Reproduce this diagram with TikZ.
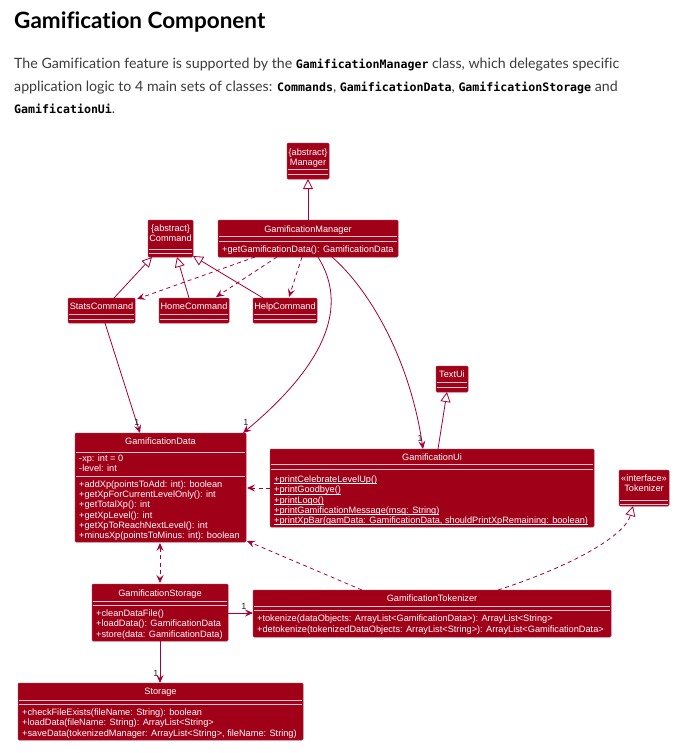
\documentclass[tikz,border=0pt]{standalone}
\usepackage{fontspec}
\setmainfont{Lato}[Ligatures=NoCommon]
\newfontfamily\dfont{Liberation Sans}
\newfontfamily\cfont{DejaVu Sans Mono}
\usetikzlibrary{arrows.meta,calc}
\definecolor{boxred}{HTML}{A00018}
\definecolor{linered}{HTML}{A80036}
\definecolor{sepc}{HTML}{F0C4CC}
\definecolor{bodyc}{HTML}{3C3C3C}
\newcommand\cd[1]{{\cfont\bfseries\fontsize{11.6}{14}\selectfont\color{black}#1}}
\newcommand\umlbox[5]{\node[cls, anchor=north west, minimum width={(#4-#2)*1pt}, minimum height={(#5-#3)*1pt}] (#1) at (#2,#3) {};}
\newcommand\divsep[2]{\draw[divline] ($(#1.north west)+(0.6,#2)$) -- ($(#1.north east)+(-0.6,#2)$);}
\newcommand\ctitle[4]{\node[ctxt, anchor=base] (#1) at (#2,#3) {#4};}
\newcommand\cmeth[4]{\node[ctxt, anchor=base west] (#1) at (#2,#3) {#4};}
\newcommand\ulin[1]{\setbox0\hbox{#1}\rlap{\vrule height -0.9pt depth 1.5pt width \wd0}\box0}
\begin{document}
\begin{tikzpicture}[x=1pt,y=-1pt,
  cls/.style={fill=boxred, draw=boxred!85!white, line width=0.5pt, rounded corners=1.2pt, inner sep=0pt, outer sep=0pt},
  divline/.style={draw=sepc, line width=0.8pt},
  ctxt/.style={text=white, inner sep=0pt, font=\dfont\fontsize{9.2}{10.3}\selectfont},
  onelbl/.style={text=black!85, inner sep=0pt, font=\dfont\fontsize{9}{10}\selectfont},
  inh/.style={draw=linered, line width=0.8pt, -{Triangle[length=10pt,width=10pt,fill=white,line width=0.8pt]}},
  inhd/.style={inh, dash pattern=on 4pt off 3.5pt},
  asc/.style={draw=linered, line width=0.8pt, -{Stealth[length=8pt,width=7pt,inset=3pt]}},
  dep/.style={asc, dash pattern=on 4pt off 3.5pt},
  depboth/.style={dep, {Stealth[length=8pt,width=7pt,inset=3pt]}-{Stealth[length=8pt,width=7pt,inset=3pt]}},
  bodytxt/.style={anchor=base west, inner sep=0pt, text=bodyc, font=\fontsize{14.2}{18}\selectfont}
]
\useasboundingbox (0,0) rectangle (684,753);
\fill[white] (0,0) rectangle (684,753);

% heading and text
\node[anchor=base west, inner sep=0pt, font=\fontsize{22.5}{26}\selectfont\bfseries] (title) at (14,28) {Gamification Component};
\node[bodytxt] (l1) at (14,68) {The Gamification feature is supported by the \cd{GamificationManager} class, which delegates specific};
\node[bodytxt] (l2) at (14,91) {application logic to 4 main sets of classes: \cd{Commands}, \cd{GamificationData}, \cd{GamificationStorage} and};
\node[bodytxt] (l3) at (14,113) {\cd{GamificationUi}.};

% Manager
\umlbox{mgr}{287}{143}{329}{179}
\ctitle{mgr1}{308}{155}{\{abstract\}}
\ctitle{mgr2}{308}{165}{Manager}
\divsep{mgr}{26}\divsep{mgr}{31}

% Command
\umlbox{cmd}{148}{220}{193}{257}
\ctitle{cmd1}{170.5}{231}{\{abstract\}}
\ctitle{cmd2}{170.5}{241.5}{Command}
\divsep{cmd}{29}\divsep{cmd}{33}

% GamificationManager
\umlbox{gm}{218}{220}{398}{257}
\ctitle{gmt}{308}{232.5}{GamificationManager}
\divsep{gm}{16}\divsep{gm}{21}
\cmeth{gmm}{222}{252.5}{+getGamificationData(): GamificationData}

% commands
\umlbox{stats}{68}{298}{135}{323}
\ctitle{statst}{101.5}{309.5}{StatsCommand}
\divsep{stats}{16}\divsep{stats}{21}
\umlbox{home}{159}{298}{229}{323}
\ctitle{homet}{194}{309.5}{HomeCommand}
\divsep{home}{16}\divsep{home}{21}
\umlbox{help}{253}{298}{317}{323}
\ctitle{helpt}{285}{309.5}{HelpCommand}
\divsep{help}{16}\divsep{help}{21}

% TextUi
\umlbox{textui}{436}{366}{468}{392}
\ctitle{textuit}{452}{377.5}{TextUi}
\divsep{textui}{16}\divsep{textui}{21}

% GamificationData
\umlbox{gd}{75}{433}{246}{542}
\ctitle{gdt}{160.5}{444.5}{GamificationData}
\divsep{gd}{19}
\cmeth{gdf1}{79}{461.5}{-xp: int = 0}
\cmeth{gdf2}{79}{471.5}{-level: int}
\divsep{gd}{43}
\cmeth{gdm1}{79}{487.5}{+addXp(pointsToAdd: int): boolean}
\cmeth{gdm2}{79}{497.7}{+getXpForCurrentLevelOnly(): int}
\cmeth{gdm3}{79}{507.9}{+getTotalXp(): int}
\cmeth{gdm4}{79}{518.1}{+getXpLevel(): int}
\cmeth{gdm5}{79}{528.3}{+getXpToReachNextLevel(): int}
\cmeth{gdm6}{79}{538.5}{+minusXp(pointsToMinus: int): boolean}

% GamificationUi
\umlbox{gui}{270}{449}{594}{527}
\ctitle{guit}{432}{460.5}{GamificationUi}
\divsep{gui}{15}\divsep{gui}{20}
\cmeth{guim1}{274}{482.5}{\ulin{+printCelebrateLevelUp()}}
\cmeth{guim2}{274}{492.8}{\ulin{+printGoodbye()}}
\cmeth{guim3}{274}{503}{\ulin{+printLogo()}}
\cmeth{guim4}{274}{513.3}{\ulin{+printGamificationMessage(msg: String)}}
\cmeth{guim5}{274}{523.5}{\ulin{+printXpBar(gamData: GamificationData, shouldPrintXpRemaining: boolean)}}

% Tokenizer
\umlbox{tok}{619}{470}{669}{506}
\ctitle{tok1}{644}{481.5}{«interface»}
\ctitle{tok2}{644}{491}{Tokenizer}
\divsep{tok}{30}\divsep{tok}{34}

% GamificationStorage
\umlbox{gs}{92}{584}{228}{641}
\ctitle{gst}{160}{596}{GamificationStorage}
\divsep{gs}{17}\divsep{gs}{21}
\cmeth{gsm1}{96}{616.5}{+cleanDataFile()}
\cmeth{gsm2}{96}{626.8}{+loadData(): GamificationData}
\cmeth{gsm3}{96}{637}{+store(data: GamificationData)}

% GamificationTokenizer
\umlbox{gt}{253}{590}{611}{637}
\ctitle{gtt}{432}{601}{GamificationTokenizer}
\divsep{gt}{16}\divsep{gt}{20}
\cmeth{gtm1}{257}{621.5}{+tokenize(dataObjects: ArrayList<GamificationData>): ArrayList<String>}
\cmeth{gtm2}{257}{632}{+detokenize(tokenizedDataObjects: ArrayList<String>): ArrayList<GamificationData>}

% Storage
\umlbox{stor}{18}{683}{303}{740}
\ctitle{stort}{160.5}{694.5}{Storage}
\divsep{stor}{17}\divsep{stor}{21}
\cmeth{storm1}{22}{715.5}{+checkFileExists(fileName: String): boolean}
\cmeth{storm2}{22}{725.8}{+loadData(fileName: String): ArrayList<String>}
\cmeth{storm3}{22}{736}{+saveData(tokenizedManager: ArrayList<String>, fileName: String)}

% connectors
\draw[inh] ($(gm.north west)+(90,0)$) -- ($(mgr.south west)+(21,0)$);
\draw[inh] ($(stats.north west)+(46,0)$) -- ($(cmd.south west)+(4,0)$);
\draw[inh] ($(home.north west)+(30,0)$) -- ($(cmd.south west)+(29,0)$);
\draw[inh] ($(help.north west)+(10,0)$) -- ($(cmd.south east)+(0,-1)$);
\draw[dep] ($(gm.south west)+(37,0)$) -- ($(stats.north east)+(2,1)$);
\draw[dep] ($(gm.south west)+(59,0)$) -- ($(home.north west)+(57,-1)$);
\draw[dep] ($(gm.south west)+(84,0)$) -- ($(help.north west)+(36,-1)$);
\draw[asc] ($(gm.south west)+(100,0)$) .. controls (348,305) and (328,362) .. ($(gd.north east)+(-3,0)$);
\draw[asc] ($(gm.south west)+(114,0)$) .. controls (370,290) and (410,360) .. ($(gui.north west)+(153,0)$);
\draw[asc] ($(stats.south west)+(37,0)$) -- ($(gd.north west)+(65,0)$);
\draw[inh] ($(gui.north west)+(168,0)$) -- ($(textui.south west)+(11,0)$);
\draw[dep] ($(gui.north west)+(0,39)$) -- ($(gd.north east)+(1,55)$);
\draw[depboth] ($(gd.south west)+(85,1)$) -- ($(gs.north west)+(68,-1)$);
\draw[asc] ($(gs.north east)+(0,29)$) -- ($(gt.north west)+(0,23)$);
\draw[dep] ($(gt.north west)+(109,0)$) -- ($(gd.south east)+(1,-1)$);
\draw[inhd] ($(gt.north west)+(245,0)$) .. controls (575,565) and (625,535) .. ($(tok.south west)+(14,0)$);
\draw[asc] ($(gs.south west)+(68,0)$) -- ($(stor.north west)+(142,0)$);

% multiplicities
\node[onelbl] (one1) at (137,422) {1};
\node[onelbl] (one2) at (246,422) {1};
\node[onelbl] (one3) at (420,438) {1};
\node[onelbl] (one4) at (244,606) {1};
\node[onelbl] (one5) at (156,673) {1};
\end{tikzpicture}
\end{document}
